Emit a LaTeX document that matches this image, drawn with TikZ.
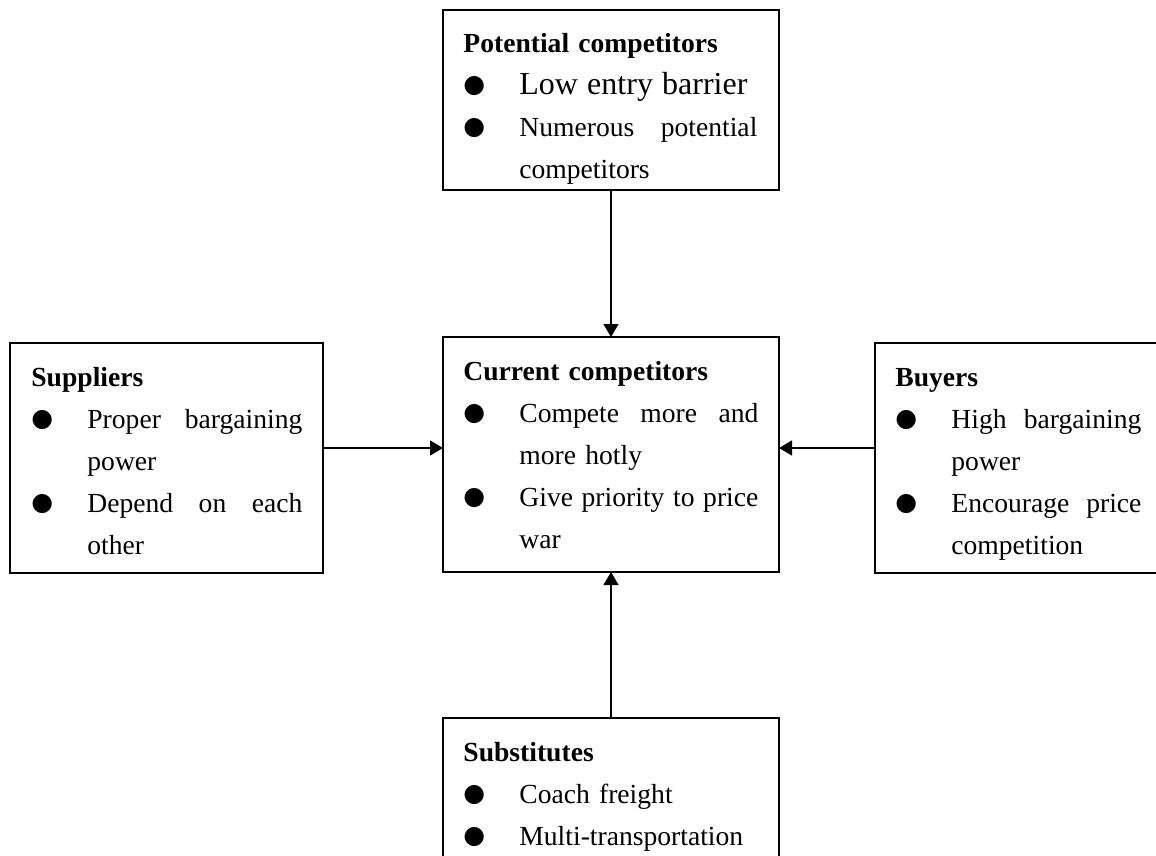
\documentclass[tikz,border=0pt]{standalone}
\usepackage{fontspec}
\setmainfont{Liberation Serif}
\newfontfamily\dotfont{DejaVu Sans}
\usetikzlibrary{arrows.meta}

\newcommand{\bulletdot}{\makebox[28pt][l]{\raisebox{1pt}{\dotfont\fontsize{12.5}{12.5}\selectfont ●}}}
\newcommand{\fullline}[2]{\makebox[#1][l]{#2}}
\newcommand{\nextline}{\hspace*{28pt}}

\tikzset{
    forcebox/.style={draw, line width=0.65pt, inner sep=0pt, outer sep=0pt, anchor=north west},
    forcetext/.style={inner sep=0pt, anchor=base west, align=left, text width=150pt,
        font=\fontsize{13.8}{21}\selectfont},
    push/.style={-{Triangle[length=6.5pt,width=7.5pt]}, line width=0.65pt},
}

\begin{document}
\begin{tikzpicture}[x=0.5pt, y=-0.5pt]
    \useasboundingbox (0,0) rectangle (1156,856);

    % boxes
    \node[forcebox, minimum width=168pt, minimum height=90pt] (pot) at (443,10) {};
    \node[forcebox, minimum width=168pt, minimum height=117.5pt] (cur) at (443,337) {};
    \node[forcebox, minimum width=156.5pt, minimum height=115pt] (sup) at (10,343) {};
    \node[forcebox, minimum width=144pt, minimum height=115pt] (buy) at (875,343) {};
    \node[forcebox, minimum width=168pt, minimum height=76pt] (sub) at (443,718) {};

    % potential competitors
    \node[forcetext] (pottext) at ([shift={(20,43)}]pot.north west) {\textbf{Potential competitors}\\
        \bulletdot{\fontsize{16}{21}\selectfont Low entry barrier}\\
        \bulletdot\fullline{119pt}{Numerous\hfill potential}\\
        \nextline competitors};

    % current competitors
    \node[forcetext] (curtext) at ([shift={(20,43)}]cur.north west) {\textbf{Current competitors}\\
        \bulletdot\fullline{119.5pt}{Compete\hfill more\hfill and}\\
        \nextline more hotly\\
        \bulletdot\fullline{119.5pt}{Give\hfill priority\hfill to\hfill price}\\
        \nextline war};

    % suppliers
    \node[forcetext] (suptext) at ([shift={(21,43)}]sup.north west) {\textbf{Suppliers}\\
        \bulletdot\fullline{107.5pt}{Proper\hfill bargaining}\\
        \nextline power\\
        \bulletdot\fullline{107.5pt}{Depend\hfill on\hfill each}\\
        \nextline other};

    % buyers
    \node[forcetext] (buytext) at ([shift={(20,43)}]buy.north west) {\textbf{Buyers}\\
        \bulletdot\fullline{95pt}{High\hfill bargaining}\\
        \nextline power\\
        \bulletdot\fullline{95pt}{Encourage\hfill price}\\
        \nextline competition};

    % substitutes
    \node[forcetext] (subtext) at ([shift={(20,43)}]sub.north west) {\textbf{Substitutes}\\
        \bulletdot Coach freight\\
        \bulletdot Multi-transportation};

    % arrows
    \coordinate (level) at (0,448);
    \draw[push] (pot.south) -- (cur.north);
    \draw[push] (sub.north) -- (cur.south);
    \draw[push] (sup.east |- level) -- (cur.west |- level);
    \draw[push] (buy.west |- level) -- (cur.east |- level);
\end{tikzpicture}
\end{document}
